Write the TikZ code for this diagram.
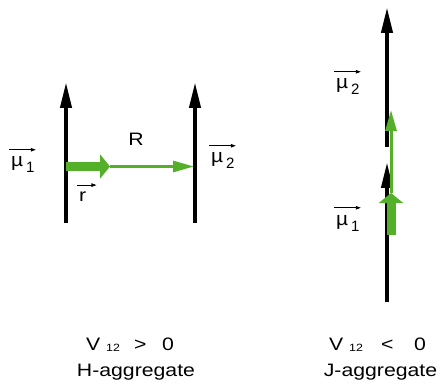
\documentclass[tikz,border=0pt]{standalone}
\usepackage{fontspec}
\setmainfont{Liberation Sans}
\usepackage{graphicx}
\usetikzlibrary{arrows.meta}

\definecolor{dipgreen}{RGB}{84,176,40}
\newcommand{\wtxt}[1]{\scalebox{1.18}[1]{#1}}
\newcommand{\mutxt}[1]{{\fontsize{19}{22}\selectfont\scalebox{1.1}[1]{µ}}\,\raisebox{-6pt}{\fontsize{15}{17}\selectfont #1}}

\tikzset{
  dipole/.style={line width=4pt,-{Triangle[length=26pt,width=11pt]}},
  thickgreen/.style={color=dipgreen,line width=9pt,-{Triangle[length=10pt,width=24pt]}},
  thingreen/.style={color=dipgreen,line width=3pt,-{Triangle[length=21pt,width=11pt]}},
  vecbar/.style={line width=0.8pt,-{Triangle[length=5pt,width=3.5pt]}},
  lbl/.style={inner sep=0pt,font=\fontsize{18}{21}\selectfont},
  sublbl/.style={inner sep=0pt,font=\fontsize{10.5}{12}\selectfont}
}

\begin{document}
\begin{tikzpicture}[x=1pt,y=-1pt]
\useasboundingbox (0,0) rectangle (446,387);

% H-aggregate
\coordinate (ha1) at (66,223);
\coordinate (ha1t) at (66,82);
\coordinate (hb1) at (195,223);
\coordinate (hb1t) at (195,82);
\coordinate (hr0) at (66,166.5);
\coordinate (hr1) at (110,166.5);
\coordinate (hr2) at (194,166.5);

\draw[dipole] (ha1) -- (ha1t);
\draw[dipole] (hb1) -- (hb1t);
\draw[thickgreen] (hr0) -- (hr1);
\draw[thingreen] (hr1) -- (hr2);

\node[lbl,anchor=base west] (hmu1) at (11,167) {\mutxt{1}};
\draw[vecbar] ([xshift=-2pt,yshift=7pt]hmu1.north west) -- ([xshift=1pt,yshift=7pt]hmu1.north east);
\node[lbl,anchor=base west] (hmu2) at (211,163) {\mutxt{2}};
\draw[vecbar] ([xshift=-2pt,yshift=7pt]hmu2.north west) -- ([xshift=1pt,yshift=7pt]hmu2.north east);
\node[lbl] (hR) at (136,139) {\wtxt{R}};
\node[lbl,anchor=base west] (hr) at (79,201) {\wtxt{r}};
\draw[vecbar] ([xshift=-2pt,yshift=6pt]hr.north west) -- ([xshift=10pt,yshift=6pt]hr.north east);

% J-aggregate
\coordinate (ja1) at (387,302);
\coordinate (ja1t) at (387,162);
\coordinate (jb1) at (387,147);
\coordinate (jb1t) at (387,7);
\coordinate (jr0) at (391,235);
\coordinate (jr1) at (391,193);
\coordinate (jr2) at (391,110);

\draw[dipole] (ja1) -- (ja1t);
\draw[dipole] (jb1) -- (jb1t);
\draw[thickgreen] (jr0) -- (jr1);
\draw[thingreen] (jr1) -- (jr2);

\node[lbl,anchor=base west] (jmu1) at (336,225) {\mutxt{1}};
\draw[vecbar] ([xshift=-2pt,yshift=7pt]jmu1.north west) -- ([xshift=1pt,yshift=7pt]jmu1.north east);
\node[lbl,anchor=base west] (jmu2) at (336,89) {\mutxt{2}};
\draw[vecbar] ([xshift=-2pt,yshift=7pt]jmu2.north west) -- ([xshift=1pt,yshift=7pt]jmu2.north east);

% coupling signs
\node[lbl,anchor=base west] (hv) at (86,350.5) {\wtxt{V}};
\node[sublbl,anchor=base west] (hvsub) at (106,351.5) {\wtxt{12}};
\node[lbl,anchor=base west] (hgt) at (134,350.5) {\wtxt{>}};
\node[lbl,anchor=base west] (hzero) at (162,350.5) {\wtxt{0}};
\node[lbl,anchor=base] (hname) at (136,376) {\wtxt{H-aggregate}};

\node[lbl,anchor=base west] (jv) at (329,350.5) {\wtxt{V}};
\node[sublbl,anchor=base west] (jvsub) at (349,351.5) {\wtxt{12}};
\node[lbl,anchor=base west] (jlt) at (381,350.5) {\wtxt{<}};
\node[lbl,anchor=base west] (jzero) at (414,350.5) {\wtxt{0}};
\node[lbl,anchor=base] (jname) at (380.5,376) {\wtxt{J-aggregate}};
\end{tikzpicture}
\end{document}
